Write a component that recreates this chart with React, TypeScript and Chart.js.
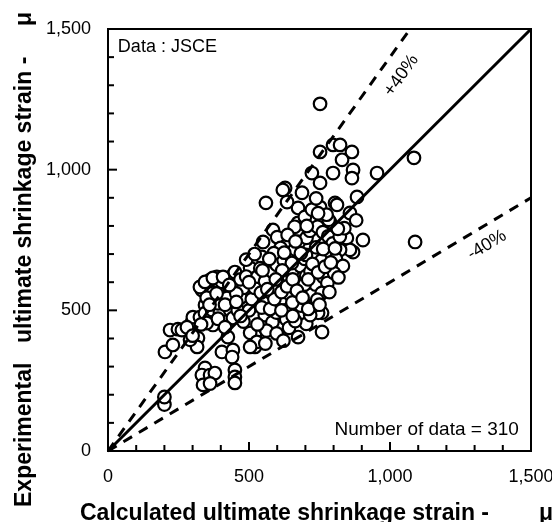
import React, { useEffect, useRef } from 'react';
import { Chart, registerables } from 'chart.js';

Chart.register(...registerables);

// ---- data ----
const calculatedStrain = [
  752, 1085, 1089, 752, 798, 823, 865, 830, 869, 865, 798, 752, 723, 954, 883, 628, 805, 858, 812, 869,
  847, 904, 674, 560, 620, 635, 752, 812, 880, 787, 858, 823, 777, 777, 727, 752, 759, 691, 610, 674,
  759, 745, 521, 521, 674, 585, 550, 546, 600,
  200, 200, 202, 230, 220, 248, 301, 319, 316, 291, 298, 301, 326, 344, 344, 333, 362, 386, 404, 443,
  504, 372, 404, 422, 369, 397, 372, 433, 443, 425, 404, 443, 440, 344, 333, 362, 379, 337, 362, 450,
  450, 450, 504, 528, 504, 326, 344, 372, 408, 450, 262, 280, 350, 390, 415, 460, 470, 480, 455, 390,
  350, 470, 490, 480, 500, 510, 520, 530, 540, 490, 520,
  563, 578, 604, 617, 642, 656, 683, 697, 724, 738, 557, 584, 598, 623, 638, 663, 677, 704, 716, 743,
  762, 781, 797, 822, 838, 603, 618, 644, 657, 676, 703, 718, 744, 757, 792, 808, 833, 556, 583, 597,
  632, 648, 684, 697, 723, 736, 764, 778, 802, 817, 642, 703, 717, 732, 662, 698, 723, 637, 612, 588,
  572, 548, 542, 562, 598, 622, 558, 664, 763, 782, 738, 688, 702, 652, 618, 684, 758, 742, 697, 654,
  530, 545, 575, 590, 615, 635, 655, 670, 690, 710, 725, 745, 770, 790, 805, 815, 775, 745, 705, 665,
  625, 595, 565, 615, 655, 710, 750, 785, 430, 415, 385, 360, 455, 470, 500, 330, 300,
];
const experimentalStrain = [
  1234, 1042, 743, 1063, 1088, 1088, 1063, 1035, 999, 970, 988, 953, 988, 988, 903, 935, 882, 846, 722, 707,
  757, 750, 864, 882, 928, 885, 867, 875, 820, 814, 715, 715, 686, 643, 608, 555, 491, 484, 437, 405,
  423, 491, 370, 412, 811, 786, 743, 690, 760,
  165, 192, 352, 377, 430, 433, 433, 402, 370, 395, 459, 476, 476, 519, 490, 572, 608, 619, 601, 626,
  651, 562, 548, 544, 501, 494, 448, 501, 473, 405, 352, 359, 334, 295, 270, 270, 277, 235, 240, 288,
  263, 242, 420, 388, 370, 583, 601, 615, 619, 636, 430, 440, 455, 470, 440, 500, 545, 580, 560, 525,
  545, 610, 620, 460, 500, 540, 580, 620, 650, 680, 700,
  538, 562, 577, 603, 618, 642, 657, 683, 698, 724, 603, 637, 662, 678, 704, 717, 743, 758, 783, 797,
  778, 763, 738, 762, 792, 517, 543, 558, 583, 597, 622, 638, 663, 677, 702, 683, 658, 483, 458, 492,
  468, 503, 517, 543, 558, 592, 618, 597, 632, 617, 438, 452, 483, 518, 797, 832, 858, 768, 722, 703,
  683, 642, 563, 428, 418, 392, 382, 462, 718, 822, 898, 918, 697, 668, 642, 703, 562, 538, 592, 528,
  450, 510, 505, 540, 565, 585, 610, 570, 545, 610, 665, 635, 655, 670, 720, 790, 840, 845, 800, 745,
  705, 610, 575, 500, 480, 505, 520, 565, 590, 520, 560, 520, 530, 480, 600, 450, 410,
];
const axisMajorTicks = [0, 500, 1000, 1500];
const ratioLines = [1.0, 1.4, 0.6];
const ratioLabels = ['', '+40%', '-40%'];
const dataSourceLabel = 'Data : JSCE';
const countLabel = 'Number of data = 310';
const xTitle = 'Calculated ultimate shrinkage strain -';
const yTitleParts = ['Experimental', 'ultimate shrinkage strain -'];
const unitLabel = 'μ';

const FONT = '"Liberation Sans", Arial, Helvetica, sans-serif';
const AXIS_MIN = axisMajorTicks[0];
const AXIS_MAX = axisMajorTicks[axisMajorTicks.length - 1];

const decorPlugin = {
  id: 'decor',
  afterDraw(chart: any) {
    const { ctx, chartArea, scales } = chart;
    const { left, top, right, bottom } = chartArea;
    const xs = scales.x;
    const ys = scales.y;
    ctx.save();
    // frame
    ctx.strokeStyle = '#000';
    ctx.lineWidth = 2;
    ctx.strokeRect(left, top, right - left, bottom - top);
    // inside tick marks
    xs.ticks.forEach((t: any) => {
      if (t.value <= AXIS_MIN || t.value >= AXIS_MAX) return;
      const px = xs.getPixelForValue(t.value);
      const len = axisMajorTicks.includes(t.value) ? 9 : 6;
      ctx.beginPath();
      ctx.moveTo(px, bottom);
      ctx.lineTo(px, bottom - len);
      ctx.stroke();
    });
    ys.ticks.forEach((t: any) => {
      if (t.value <= AXIS_MIN || t.value >= AXIS_MAX) return;
      const py = ys.getPixelForValue(t.value);
      const len = axisMajorTicks.includes(t.value) ? 9 : 6;
      ctx.beginPath();
      ctx.moveTo(left, py);
      ctx.lineTo(left + len, py);
      ctx.stroke();
    });

    ctx.fillStyle = '#000';
    // data source label
    ctx.font = `18px ${FONT}`;
    ctx.textAlign = 'left';
    ctx.textBaseline = 'alphabetic';
    ctx.fillText(dataSourceLabel, xs.getPixelForValue(35), ys.getPixelForValue(1418));
    // count label
    ctx.font = `19px ${FONT}`;
    ctx.textAlign = 'right';
    ctx.fillText(countLabel, xs.getPixelForValue(1457), ys.getPixelForValue(57));

    // ratio labels along the dashed lines
    const labelSpots = [null, { x: 1040, y: 1335 }, { x: 1344, y: 732 }];
    ratioLines.forEach((r, i) => {
      const spot = labelSpots[i];
      if (!spot || !ratioLabels[i]) return;
      const ang = Math.atan2(
        ys.getPixelForValue(r * 1000) - ys.getPixelForValue(0),
        xs.getPixelForValue(1000) - xs.getPixelForValue(0)
      );
      ctx.save();
      ctx.translate(xs.getPixelForValue(spot.x), ys.getPixelForValue(spot.y));
      ctx.rotate(ang);
      ctx.font = `18px ${FONT}`;
      ctx.textAlign = 'center';
      ctx.textBaseline = 'middle';
      ctx.fillText(ratioLabels[i], 0, 0);
      ctx.restore();
    });

    // axis titles
    ctx.font = `bold 23px ${FONT}`;
    ctx.textAlign = 'left';
    ctx.textBaseline = 'alphabetic';
    ctx.fillText(xTitle, left - 28, 520);
    ctx.fillText(unitLabel, 539, 520);

    ctx.save();
    ctx.translate(31, 507);
    ctx.rotate(-Math.PI / 2);
    ctx.fillText(yTitleParts[0], 0, 0);
    ctx.fillText(yTitleParts[1], 164, 0);
    ctx.fillText(unitLabel, 481, 0);
    ctx.restore();

    ctx.restore();
  },
};

export default function App() {
  const canvasRef = useRef<HTMLCanvasElement | null>(null);

  useEffect(() => {
    const canvas = canvasRef.current;
    if (!canvas) return;

    const points = calculatedStrain.map((x, i) => ({ x, y: experimentalStrain[i] }));
    const lineSets = ratioLines.map((r, i) => {
      const xEnd = Math.min(AXIS_MAX, AXIS_MAX / r);
      return {
        type: 'line' as const,
        label: ratioLabels[i] || '1:1',
        data: [
          { x: AXIS_MIN, y: AXIS_MIN },
          { x: xEnd, y: xEnd * r },
        ],
        borderColor: '#000',
        borderWidth: 3,
        borderDash: i === 0 ? [] : [10, 8],
        pointRadius: 0,
        fill: false,
        order: 0,
        clip: 2,
      };
    });

    const chart = new Chart(canvas, {
      type: 'scatter',
      data: {
        datasets: [
          ...lineSets,
          {
            type: 'scatter' as const,
            label: 'JSCE',
            data: points,
            pointRadius: 6.3,
            pointBorderWidth: 2.2,
            pointBorderColor: '#000',
            pointBackgroundColor: '#fff',
            borderColor: '#000',
            backgroundColor: '#fff',
            order: 1,
          },
        ] as any,
      },
      options: {
        responsive: false,
        animation: false,
        devicePixelRatio: 1,
        layout: { padding: { left: 0, right: 21, top: 29, bottom: 0 } },
        plugins: { legend: { display: false }, tooltip: { enabled: false } },
        scales: {
          x: {
            type: 'linear',
            min: AXIS_MIN,
            max: AXIS_MAX,
            grid: { display: false, drawTicks: false },
            border: { display: false },
            ticks: {
              stepSize: 100,
              autoSkip: false,
              maxRotation: 0,
              padding: 15,
              color: '#000',
              font: { size: 18, family: FONT },
              callback: (v: any) => (axisMajorTicks.includes(Number(v)) ? Number(v).toLocaleString('en-US') : ''),
            },
            afterFit: (s: any) => {
              s.height = 71;
              s.paddingLeft = 0;
              s.paddingRight = 0;
            },
          },
          y: {
            type: 'linear',
            min: AXIS_MIN,
            max: AXIS_MAX,
            grid: { display: false, drawTicks: false },
            border: { display: false },
            ticks: {
              stepSize: 100,
              autoSkip: false,
              padding: 17,
              color: '#000',
              font: { size: 18, family: FONT },
              callback: (v: any) => (axisMajorTicks.includes(Number(v)) ? Number(v).toLocaleString('en-US') : ''),
            },
            afterFit: (s: any) => {
              s.width = 108;
              s.paddingTop = 0;
              s.paddingBottom = 0;
            },
          },
        },
      } as any,
      plugins: [decorPlugin],
    });

    return () => chart.destroy();
  }, []);

  return (
    <div style={{ position: 'fixed', left: 0, top: 0, width: 552, height: 522, background: '#fff' }}>
      <canvas ref={canvasRef} width={552} height={522} style={{ width: 552, height: 522, display: 'block' }} />
    </div>
  );
}
